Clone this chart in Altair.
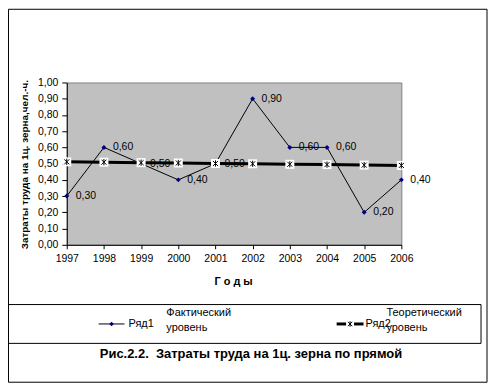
import altair as alt
import pandas as pd

years = ["1997", "1998", "1999", "2000", "2001", "2002", "2003", "2004", "2005", "2006"]
actual = [0.30, 0.60, 0.50, 0.40, 0.50, 0.90, 0.60, 0.60, 0.20, 0.40]
trend = [0.511, 0.509, 0.506, 0.504, 0.501, 0.499, 0.496, 0.494, 0.491, 0.489]
y_ticks = [0.0, 0.1, 0.2, 0.3, 0.4, 0.5, 0.6, 0.7, 0.8, 0.9, 1.0]

y_title = "Затраты труда на 1ц. зерна,чел.-ч."
x_title = "Г о д ы"
caption = "Рис.2.2.\u00a0 Затраты труда на 1ц. зерна по прямой"
series1 = "Ряд1"
series2 = "Ряд2"
level1 = ["Фактический", "уровень"]
level2 = ["Теоретический", "уровень"]

FONT = "Liberation Sans"

df = pd.DataFrame({"year": years, "actual": actual, "trend": trend})
one = pd.DataFrame({"k": [0]})

x_axis = alt.Axis(
    title=x_title, labelAngle=0, tickSize=4, labelPadding=5,
    titleX=167, titleY=37, titleBaseline="middle", titleAlign="center",
    titleFontWeight="bold", titleFontSize=11,
)
y_axis = alt.Axis(
    title=y_title, values=y_ticks, tickSize=5, labelPadding=4,
    labelExpr="replace(format(datum.value, '.2f'), '.', ',')",
    titleX=-42, titleY=82, titleAngle=270, titleAlign="center",
    titleBaseline="middle", titleFontWeight="bold", titleFontSize=10,
)
x_scale = alt.Scale(type="point", padding=0)
y_scale = alt.Scale(domain=[0, 1], nice=False)


def X():
    return alt.X("year:O", scale=x_scale, axis=x_axis, sort=years)


def Y(field):
    return alt.Y(f"{field}:Q", scale=y_scale, axis=y_axis)


base = alt.Chart(df)

line1 = base.mark_line(color="black", strokeWidth=1).encode(x=X(), y=Y("actual"))
pts1 = base.mark_point(shape="diamond", filled=True, color="#000080", size=25, opacity=1).encode(x=X(), y=Y("actual"))
lbl1 = base.transform_calculate(
    lab="replace(format(datum.actual, '.2f'), '.', ',')"
).mark_text(align="left", baseline="middle", dx=9, font=FONT, fontSize=10.5, color="black").encode(
    x=X(), y=Y("actual"), text="lab:N"
)
line2 = base.mark_line(color="black", strokeWidth=3).encode(x=X(), y=Y("trend"))
box2 = base.mark_square(size=81, color="white", opacity=1).encode(x=X(), y=Y("trend"))
STAR = "M-0.8,-0.8L0.8,0.8M0.8,-0.8L-0.8,0.8M0,-1L0,1"
star2 = base.mark_point(shape=STAR, size=40, color="black", strokeWidth=1, opacity=1).encode(x=X(), y=Y("trend"))

deco = alt.Chart(one)
frame = deco.mark_rect(fillOpacity=0, stroke="black", strokeWidth=1).encode(
    x=alt.value(-58.5), x2=alt.value(422), y=alt.value(-73.5), y2=alt.value(301)
)
legbox = deco.mark_rect(fillOpacity=0, stroke="black", strokeWidth=1).encode(
    x=alt.value(-58.5), x2=alt.value(416), y=alt.value(223), y2=alt.value(262)
)
leg_y = 242.5
leg1_line = deco.mark_rule(color="black", strokeWidth=1).encode(
    x=alt.value(32), x2=alt.value(58), y=alt.value(leg_y)
)
leg1_pt = deco.mark_point(shape="diamond", filled=True, color="#000080", size=22, opacity=1).encode(
    x=alt.value(45), y=alt.value(leg_y)
)
leg2_line = deco.mark_rule(color="black", strokeWidth=3).encode(
    x=alt.value(271), x2=alt.value(298), y=alt.value(leg_y)
)
leg2_box = deco.mark_square(size=64, color="white", opacity=1).encode(x=alt.value(284.5), y=alt.value(leg_y))
leg2_star = deco.mark_point(shape=STAR, size=30, color="black", strokeWidth=1, opacity=1).encode(
    x=alt.value(284.5), y=alt.value(leg_y)
)


def txt(s, x, y, size=11, weight="normal", align="left"):
    return deco.mark_text(
        text=s, align=align, baseline="middle", font=FONT, fontSize=size,
        fontWeight=weight, color="black",
    ).encode(x=alt.value(x), y=alt.value(y))


texts = [
    txt(series1, 62, leg_y),
    txt(level1[0], 100, 232),
    txt(level1[1], 100, 247),
    txt(series2, 300, leg_y),
    txt(level2[0], 321, 232),
    txt(level2[1], 321, 247),
    txt(caption, 185, 272.5, size=13, weight="bold", align="center"),
]

chart = alt.layer(
    frame, legbox, line1, pts1, lbl1, line2, box2, star2,
    leg1_line, leg1_pt, leg2_line, leg2_box, leg2_star, *texts,
).properties(
    width=336, height=163, autosize="none",
    padding={"left": 59, "top": 74, "right": 87, "bottom": 139},
    background="white",
).configure_view(
    fill="#C0C0C0", stroke="#808080", strokeWidth=1
).configure_axis(
    grid=False, domainColor="black", tickColor="black", labelColor="black",
    titleColor="black", labelFont=FONT, titleFont=FONT, labelFontSize=10.5,
)

chart.save("out.html", embed_options={"renderer": "svg", "actions": False})
